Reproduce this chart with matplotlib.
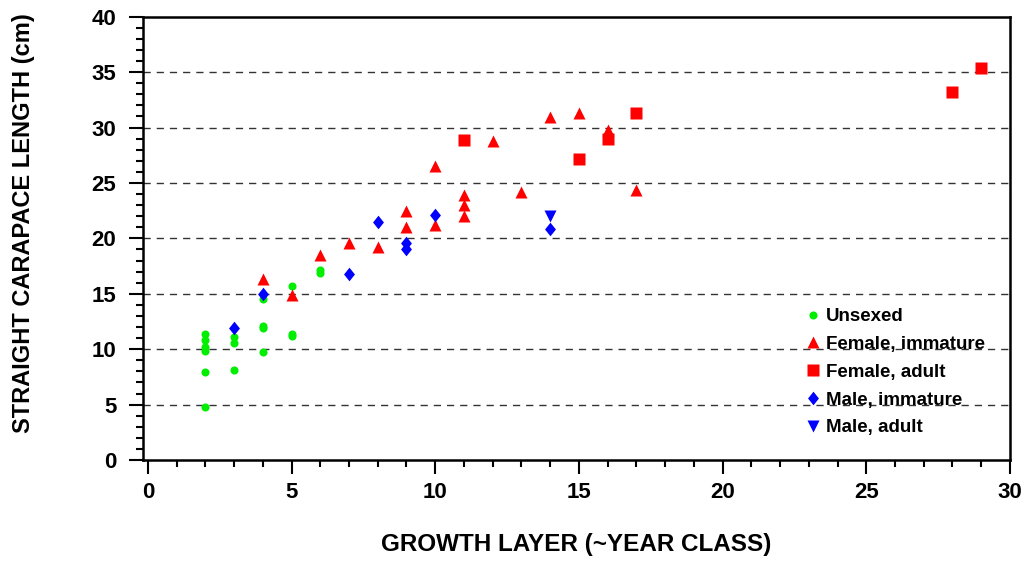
import matplotlib
matplotlib.use("Agg")
import matplotlib.pyplot as plt
from matplotlib.ticker import MultipleLocator

# Growth layer (~year class) vs straight carapace length (cm)
unsexed_x = [2, 2, 2, 2, 2, 2, 3, 3, 3, 4, 4, 4, 4, 5, 5, 5, 6, 6]
unsexed_y = [11.35, 10.8, 10.2, 9.8, 7.95, 4.8, 11.1, 10.6, 8.1,
             14.5, 12.1, 11.9, 9.7, 15.7, 11.4, 11.2, 17.15, 16.85]

fem_imm_x = [4, 5, 6, 7, 8, 9, 9, 10, 10, 11, 11, 11, 12, 13, 14, 15, 16, 17]
fem_imm_y = [16.3, 14.9, 18.5, 19.55, 19.25, 22.45, 21.0, 26.55, 21.2,
             23.95, 23.0, 22.05, 28.8, 24.15, 30.95, 31.35, 29.75, 24.35]

fem_adult_x = [11, 15, 16, 17, 28, 29]
fem_adult_y = [28.85, 27.2, 28.95, 31.3, 33.2, 35.35]

male_imm_x = [3, 4, 7, 8, 9, 9, 10, 14]
male_imm_y = [11.9, 15.0, 16.8, 21.5, 19.6, 19.0, 22.1, 20.8]

male_adult_x = [14]
male_adult_y = [22.05]

plt.rcParams["font.family"] = ["Liberation Sans", "DejaVu Sans"]
plt.rcParams["font.weight"] = "bold"

fig = plt.figure(figsize=(10.31, 5.62), dpi=100)
ax = fig.add_axes([0.1384, 0.1815, 0.8412, 0.7888])

diamond = [(0, 1), (0.8, 0), (0, -1), (-0.8, 0), (0, 1)]

ax.plot(unsexed_x, unsexed_y, "o", color="#00ee00", ms=5.8, mec="none",
        label="Unsexed", zorder=3)
ax.plot(fem_imm_x, fem_imm_y, "^", color="#ff0000", ms=8.5, mec="none",
        label="Female, immature", zorder=3)
ax.plot(fem_adult_x, fem_adult_y, "s", color="#ff0000", ms=8.0, mec="none",
        label="Female, adult", zorder=3)
ax.plot(male_imm_x, male_imm_y, marker=diamond, ls="none", color="#0000ff",
        ms=9.8, mec="none", label="Male, immature", zorder=3)
ax.plot(male_adult_x, male_adult_y, "v", color="#0000ff", ms=8.5, mec="none",
        label="Male, adult", zorder=3)

ax.set_xlim(-0.18, 30)
ax.set_ylim(0, 40)

ax.xaxis.set_major_locator(MultipleLocator(5))
ax.xaxis.set_minor_locator(MultipleLocator(1))
ax.yaxis.set_major_locator(MultipleLocator(5))
ax.yaxis.set_minor_locator(MultipleLocator(1))

for y in range(5, 40, 5):
    ax.axhline(y, color="#333333", lw=1.0, ls=(0, (5.2, 4.3)), zorder=1)

for s in ax.spines.values():
    s.set_linewidth(1.8)

ax.tick_params(axis="both", which="major", direction="out", length=10,
               width=1.5, labelsize=16, pad=6)
ax.tick_params(axis="both", which="minor", direction="out", length=5,
               width=1.5)
ax.tick_params(axis="y", which="major", pad=9)
for lbl in ax.get_xticklabels() + ax.get_yticklabels():
    lbl.set_fontweight("bold")

ax.set_xlabel("GROWTH LAYER (~YEAR CLASS)", fontsize=17.5, fontweight="bold")
ax.set_ylabel("STRAIGHT CARAPACE LENGTH (cm)", fontsize=17, fontweight="bold")
ax.xaxis.set_label_coords(0.5, -0.165)
ax.yaxis.set_label_coords(-0.124, 0.535)

leg = ax.legend(loc="upper left", bbox_to_anchor=(0.7535, 0.364),
                frameon=False, handlelength=0.8,
                handletextpad=0.3, labelspacing=0.57, borderpad=0,
                markerscale=1.0, prop={"weight": "bold", "size": 13.5})

fig.savefig("out.png", dpi=100, facecolor="white")
